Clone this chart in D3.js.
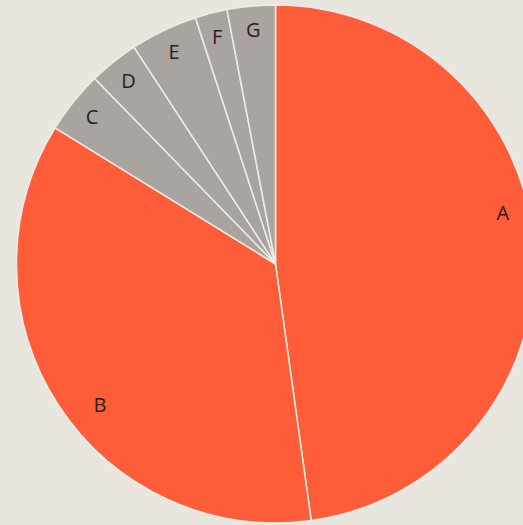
<!DOCTYPE html>
<html>
<head>
<meta charset="utf-8">
<script src="https://cdn.jsdelivr.net/npm/d3@7/dist/d3.min.js"></script>
<style>
  html, body { margin: 0; padding: 0; background: #e9e6e0; }
  svg { display: block; }
</style>
</head>
<body>
<svg id="chart" width="523" height="525"></svg>
<script>
// Share of each category (percent)
const categories = ["A", "B", "C", "D", "E", "F", "G"];
const values = [47.8, 36.0, 3.9, 3.1, 4.2, 2.0, 3.0];
const highlighted = ["A", "B"];

// Small angular/radial adjustments (degrees, px) for the two large labels
const labelNudge = { A: { da: -8.8, dr: -2 }, B: { da: -5.6, dr: -10 } };

const width = 523, height = 525;
const cx = 275.5, cy = 264, radius = 259;
const labelRadius = 235;

const data = categories.map((c, i) => ({ category: c, value: values[i] }));

const color = d3.scaleOrdinal()
  .domain(categories)
  .range(categories.map(c => highlighted.includes(c) ? "#ff5d3a" : "#a9a4a0"));

const pie = d3.pie().sort(null).value(d => d.value);
const arc = d3.arc().innerRadius(0).outerRadius(radius);

const svg = d3.select("#chart");
const g = svg.append("g").attr("transform", `translate(${cx},${cy})`);

const arcs = pie(data);

g.selectAll("path.slice")
  .data(arcs)
  .join("path")
  .attr("class", "slice")
  .attr("d", arc)
  .attr("fill", d => color(d.data.category))
  .attr("stroke", "#efece6")
  .attr("stroke-width", 1.5)
  .attr("stroke-linejoin", "round");

g.selectAll("text.label")
  .data(arcs)
  .join("text")
  .attr("class", "label")
  .attr("transform", d => {
    const n = labelNudge[d.data.category] || { da: 0, dr: 0 };
    const a = (d.startAngle + d.endAngle) / 2 + n.da * Math.PI / 180;
    const r = labelRadius + n.dr;
    return `translate(${r * Math.sin(a)},${-r * Math.cos(a)})`;
  })
  .attr("text-anchor", "middle")
  .attr("dy", "0.36em")
  .attr("font-family", "'Open Sans', sans-serif")
  .attr("font-size", 20)
  .attr("fill", "#2b1d1d")
  .text(d => d.data.category);
</script>
</body>
</html>
